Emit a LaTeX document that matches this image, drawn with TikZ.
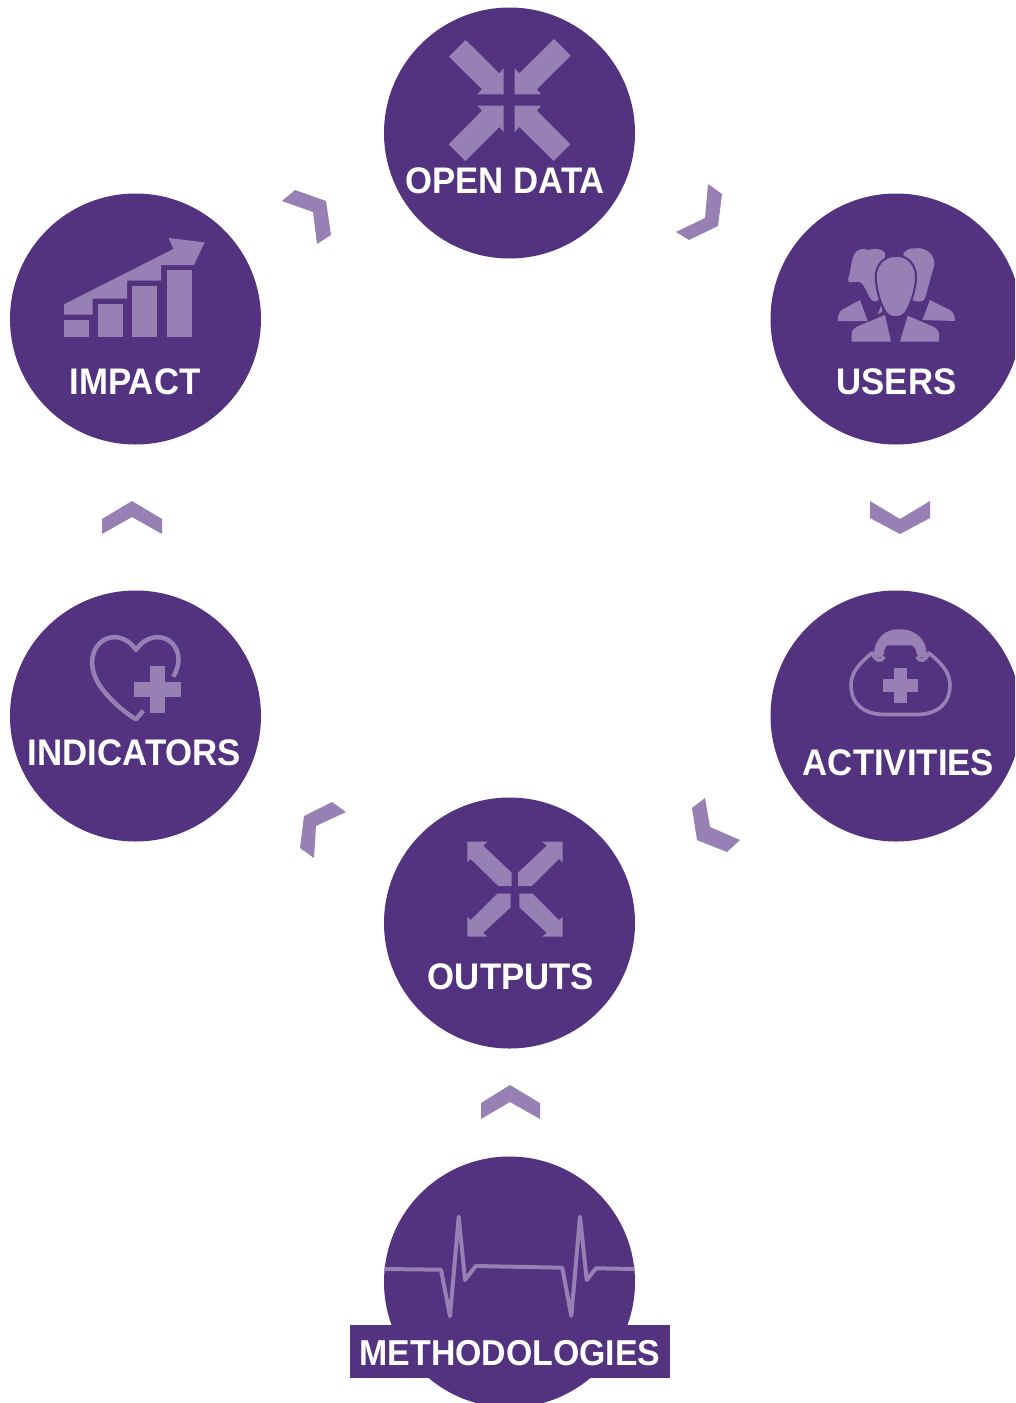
\documentclass[tikz,border=0pt]{standalone}
\usepackage{fontspec}
\setmainfont{Liberation Sans}[FakeStretch=0.94]
\definecolor{darkpurple}{RGB}{83,50,128}
\definecolor{lightpurple}{RGB}{150,128,180}
\tikzstyle{stage}=[circle,fill=darkpurple,minimum size=251pt,inner sep=0pt]
\tikzstyle{caption}=[anchor=base,text=white,inner sep=0pt,font=\bfseries\fontsize{37}{37}\selectfont]
\tikzstyle{chevron}=[fill=lightpurple]
\tikzstyle{icon}=[fill=lightpurple]
\tikzstyle{iconline}=[draw=lightpurple,line width=4pt,line join=round]
\begin{document}
\begin{tikzpicture}[x=1pt,y=-1pt]
    \path[use as bounding box,clip] (0,0) rectangle (1015,1403);
    % First we draw the circles
    \foreach \pos/\name in {{(509.5,133)/opendata}, {(896,319)/users}, {(135.5,319)/impact}, {(896,716)/activities}, {(135.5,716)/indicators}, {(509.5,923)/outputs}, {(509.5,1282)/methodologies}}
        \node[stage] (\name) at \pos {};

    % Chevrons between the circles
    \foreach \a/\b/\c/\d/\e/\f in {{(708,184)/(722,194)/(718,226)/(689,240)/(676,232)/(705,218)}, {(870,501)/(900,519)/(930,501)/(930,518)/(900,534)/(870,518)}, {(705,798)/(710,827)/(740,840)/(727,852)/(697,840)/(692,808)}, {(332,802)/(346,812)/(316,826)/(314,858)/(300,848)/(304,816)}, {(102,519)/(132,501)/(162,519)/(162,534)/(132,517)/(102,534)}, {(295,190)/(326,201)/(331,235)/(317,244)/(313,212)/(282,201)}, {(481,1103)/(510,1085)/(540,1103)/(540,1119)/(510,1102)/(481,1119)}}
        \fill[chevron] \a -- \b -- \c -- \d -- \e -- \f -- cycle;

    % Open data icon
    \fill[icon] (465.7,40) -- (499.3,73.3) -- (503.7,68.3) -- (503.7,94.3) -- (477.3,94.3) -- (482,89.3) -- (449,56.7) -- cycle;
    \fill[icon] (554,39) -- (570.7,55.7) -- (536.7,89.3) -- (541,94.3) -- (514.7,94.3) -- (514.7,68.3) -- (519.3,73.3) -- cycle;
    \fill[icon] (448.7,144.3) -- (465.3,161) -- (499.3,127) -- (503.7,132) -- (503.7,105.7) -- (477.7,105.7) -- (482,110.7) -- cycle;
    \fill[icon] (570.3,144.3) -- (553.7,161) -- (519.3,127) -- (514.7,132) -- (514.7,105.7) -- (541,105.7) -- (536.7,110.7) -- cycle;

    % Users icon
    \fill[icon] (847.7,280) .. controls (851,272) and (851,258) .. (855,253.3) .. controls (857,249) and (864,248) .. (868,250) .. controls (873,249) and (880,247) .. (885,253) -- (885,285) -- (878.3,300) .. controls (875,302) and (873,302) .. (871.7,300) .. controls (868,296) and (867,291) .. (865,288.3) .. controls (863,284) and (861,282) .. (858.3,281.7) -- (850,282.3) -- cycle;
    \fill[icon] (903.3,253.3) .. controls (907,249) and (911,248) .. (915,248.3) .. controls (926,247) and (935,254) .. (934.3,265) -- (925,298.3) .. controls (922,303) and (917,302) .. (912,300) -- cycle;
    \fill[icon] (837.7,321) .. controls (838,316) and (839,312) .. (841.7,310) -- (860,300) -- (867.7,321) -- cycle;
    \fill[icon] (922.3,320) -- (930,300) -- (950,310) .. controls (953,312) and (955,316) .. (955,321) -- cycle;
    \fill[icon] (881.7,304.3) -- (877.7,314.3) -- (882.3,311.7) -- cycle;
    \filldraw[icon,draw=darkpurple,line width=2pt] (896.5,255.7) .. controls (884,255.7) and (875.5,265) .. (875.7,277) .. controls (876,288) and (880,303) .. (884,309) .. controls (887,320) and (904,320) .. (907.5,309) .. controls (911,303) and (916,288) .. (916,277) .. controls (916,265) and (908,255.7) .. (896.5,255.7) -- cycle;
    \fill[icon] (851.7,341.7) -- (851.7,333) .. controls (852,330) and (855,327.5) .. (858.3,326) -- (885,315) -- (891,341.7) -- cycle;
    \fill[icon] (900,341.7) -- (907.7,315.7) -- (933.3,326.7) .. controls (937,328.5) and (939,331) .. (939,333.3) -- (939,341.7) -- cycle;

    % Impact icon
    \fill[icon] (64,304.3) -- (173.3,249) -- (168.7,238) -- (204.7,242.3) -- (194,265) -- (161,265) -- (161,280.7) -- (127,280.7) -- (127,298.7) -- (92.7,298.7) -- (92.7,314.7) -- (64,314.7) -- cycle;
    \foreach \x/\top in {64/320, 98/304, 132/286, 167/270}
        \fill[icon] (\x,\top) rectangle (\x+25,337);

    % Indicators icon
    \draw[iconline,line width=4.5pt] (173.3,676.7) .. controls (180,665) and (181,653) .. (172,643) .. controls (162,633) and (145,636) .. (136,650) .. controls (127,636) and (110,633) .. (100,643) .. controls (88,655) and (91,672) .. (100,686) .. controls (110,700) and (124,712) .. (136,719.3) -- (143.3,710.7);
    \fill[icon] (134.3,682) rectangle (181,697.3);
    \fill[icon] (150.3,666.3) rectangle (165.3,712.7);

    % Activities icon
    \draw[iconline,line width=3.6pt] (884,656.5) .. controls (882,662.5) and (876,661.5) .. (872,653) .. controls (860,663) and (851,672) .. (851,685) .. controls (851,705) and (865,714.5) .. (885,714.5) -- (916,714.5) .. controls (936,714.5) and (950,705) .. (950,685) .. controls (950,672) and (941,663) .. (929,653) .. controls (925,661.5) and (919,662.5) .. (917,656.5);
    \fill[icon] (874,653.7) .. controls (874,640) and (885,629.3) .. (896.7,629.3) -- (901.7,629.3) .. controls (915,629.3) and (926.7,640) .. (926.7,653.7) .. controls (925,659) and (918,659) .. (916.7,653.7) .. controls (916,648) and (914,645.3) .. (910,645.3) -- (888.3,645.3) .. controls (886,645.3) and (884.5,648) .. (884,653.7) .. controls (882,659) and (876,659) .. (874,653.7) -- cycle;
    \fill[icon] (882.7,679.3) rectangle (918.3,691.7);
    \fill[icon] (894.3,667.7) rectangle (906.7,703.3);

    % Outputs icon
    \fill[icon] (467.3,841.7) -- (487.3,841.7) -- (483.3,845.7) -- (511.7,872.7) -- (511.7,886) -- (498.3,886) -- (470.7,859) -- (467.3,862.3) -- cycle;
    \fill[icon] (562.7,841.7) -- (562.7,862.3) -- (559,859) -- (531.7,886) -- (518,886) -- (518,872.7) -- (546.7,845.7) -- (542.3,841.7) -- cycle;
    \fill[icon] (467.3,936.7) -- (487.3,936.7) -- (483.3,932.7) -- (510.7,907.3) -- (510.7,893.7) -- (497.3,893.7) -- (470.7,920) -- (467.3,916.7) -- cycle;
    \fill[icon] (562.7,936.7) -- (542.3,936.7) -- (546.7,932.7) -- (519.3,907.3) -- (519.3,893.7) -- (532.7,893.7) -- (559,920) -- (562.7,916.7) -- cycle;

    % Methodologies icon
    \draw[iconline] (384.3,1269) -- (441,1269.7) -- (450,1316.3) -- (458.7,1216.7) -- (465,1280) -- (475.7,1266) -- (562.3,1267.7) -- (571.3,1316) -- (580,1216.7) -- (586.7,1280) -- (596,1268.3) -- (634.7,1269);

    % Then the captions
    \fill[darkpurple] (350,1325) rectangle (670,1377.7);
    \foreach \pos/\name/\caption in {{(505,193)/opendatatext/OPEN DATA}, {(896.5,394)/userstext/USERS}, {(135,394)/impacttext/IMPACT}, {(898.5,775.5)/activitiestext/ACTIVITIES}, {(134.5,765.5)/indicatorstext/INDICATORS}, {(511,989.5)/outputstext/OUTPUTS}}
        \node[caption] (\name) at \pos {\caption};
    \node[caption,font=\bfseries\fontsize{36}{36}\selectfont] (methodologiestext) at (510,1365) {METHODOLOGIES};
\end{tikzpicture}
\end{document}
